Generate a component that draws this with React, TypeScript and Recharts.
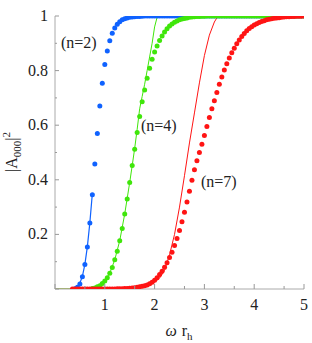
import { ComposedChart, Line, Scatter, XAxis, YAxis } from "recharts";

// sampled points are 0.05 apart in ω r_h
const STEP = 0.05;

const blueDotStart = 0.4;
const blueDots = [
  0.001, 0.006, 0.018, 0.045, 0.09, 0.154, 0.242, 0.345, 0.458, 0.57,
  0.67, 0.754, 0.822, 0.872, 0.909, 0.937, 0.956, 0.97, 0.979, 0.986,
  0.99, 0.993, 0.995, 0.996, 0.997, 0.998, 0.998, 0.999, 1, 1,
  1, 1, 1, 1, 1, 1, 1, 1, 1, 1,
  1, 1, 1, 1, 1, 1, 1, 1, 1, 1,
  1, 1, 1, 1, 1, 1, 1, 1, 1, 1,
  1, 1, 1, 1, 1, 1, 1, 1, 1, 1,
  1, 1, 1, 1, 1, 1, 1, 1, 1, 1,
  1, 1, 1, 1, 1, 1, 1, 1, 1, 1,
  1, 1, 1,
];

const greenDotStart = 0.75;
const greenDots = [
  0.002, 0.004, 0.008, 0.012, 0.02, 0.029, 0.041, 0.058, 0.079, 0.107,
  0.138, 0.177, 0.222, 0.275, 0.33, 0.39, 0.452, 0.512, 0.573, 0.632,
  0.686, 0.729, 0.772, 0.809, 0.842, 0.868, 0.89, 0.91, 0.927, 0.941,
  0.953, 0.963, 0.971, 0.977, 0.982, 0.986, 0.989, 0.991, 0.993, 0.995,
  0.996, 0.997, 0.998, 0.998, 0.999, 0.999, 1, 1, 1, 1,
  1, 1, 1, 1, 1, 1, 1, 1, 1, 1,
  1, 1, 1, 1, 1, 1, 1, 1, 1, 1,
  1, 1, 1, 1, 1, 1, 1, 1, 1, 1,
  1, 1, 1, 1, 1, 1,
];

const redDotStart = 0.35;
const redDots = [
  0, 0, 0, 0, 0, 0, 0, 0, 0, 0,
  0, 0, 0, 0, 0, 0, 0, 0, 0.001, 0.001,
  0.001, 0.002, 0.002, 0.003, 0.004, 0.005, 0.006, 0.008, 0.01, 0.012,
  0.015, 0.019, 0.025, 0.032, 0.041, 0.053, 0.065, 0.08, 0.096, 0.115,
  0.135, 0.159, 0.185, 0.214, 0.246, 0.281, 0.319, 0.358, 0.398, 0.437,
  0.47, 0.5, 0.53, 0.562, 0.595, 0.628, 0.66, 0.69, 0.72, 0.75,
  0.777, 0.802, 0.825, 0.846, 0.865, 0.882, 0.898, 0.912, 0.925, 0.936,
  0.946, 0.954, 0.961, 0.967, 0.972, 0.976, 0.98, 0.983, 0.986, 0.988,
  0.99, 0.992, 0.993, 0.994, 0.995, 0.996, 0.997, 0.997, 0.998, 0.998,
  0.999, 0.999, 0.999, 1,
];

const blueLineX = [0.35, 0.4, 0.45, 0.5, 0.55, 0.6, 0.65, 0.7, 0.75];
const blueLineY = [0, 0.004, 0.01, 0.022, 0.046, 0.09, 0.155, 0.243, 0.35];

const greenLineX = [0, 0.7, 0.8, 0.9, 1.0, 1.1, 1.2, 1.3, 1.4, 1.5, 1.55, 1.6, 1.65, 1.7, 1.75, 1.8, 1.85, 1.9, 1.95, 2.0, 2.05, 2.1, 5];
const greenLineY = [0, 0, 0.004, 0.012, 0.03, 0.058, 0.107, 0.177, 0.275, 0.39, 0.452, 0.515, 0.585, 0.66, 0.705, 0.75, 0.8, 0.85, 0.9, 0.96, 0.995, 1, 1];

const redLineX = [0, 1.0, 1.4, 1.6, 1.8, 1.9, 2.0, 2.1, 2.2, 2.3, 2.4, 2.5, 2.6, 2.7, 2.8, 2.9, 3.0, 3.1, 3.2, 3.25, 3.3, 5];
const redLineY = [0, 0, 0.002, 0.006, 0.013, 0.018, 0.025, 0.04, 0.068, 0.125, 0.2, 0.3, 0.415, 0.535, 0.645, 0.755, 0.855, 0.93, 0.978, 0.993, 1, 1];

const xTicks = [0, 0.2, 0.4, 0.6, 0.8, 1, 1.2, 1.4, 1.6, 1.8, 2, 2.2, 2.4, 2.6, 2.8, 3, 3.2, 3.4, 3.6, 3.8, 4, 4.2, 4.4, 4.6, 4.8, 5];
const yTicks = [0, 0.05, 0.1, 0.15, 0.2, 0.25, 0.3, 0.35, 0.4, 0.45, 0.5, 0.55, 0.6, 0.65, 0.7, 0.75, 0.8, 0.85, 0.9, 0.95, 1];

const BLUE = "#0f62ff";
const GREEN = "#3fe60a";
const RED = "#ff1414";
const FONT = "Liberation Serif, Times New Roman, serif";

function sampled(start: number, ys: number[]) {
  return ys.map((y, i) => ({ x: Math.round((start + i * STEP) * 100) / 100, y }));
}

function zipped(xs: number[], ys: number[]) {
  return xs.map((x, i) => ({ x, y: ys[i] }));
}

const isWhole = (v: number) => Math.abs(v - Math.round(v)) < 1e-6;
const isFifth = (v: number) => Math.abs(v * 5 - Math.round(v * 5)) < 1e-6;

function BottomTick({ x, y, payload }: any) {
  const v = payload.value;
  const major = isWhole(v);
  return (
    <g>
      <line x1={x} x2={x} y1={y} y2={y - (major ? 5 : 3)} stroke="#999" />
      {major && v > 0 && (
        <text x={x} y={y + 21} textAnchor="middle" fontFamily={FONT} fontSize={16} fill="#222">
          {v}
        </text>
      )}
    </g>
  );
}

function TopTick({ x, y, payload }: any) {
  const major = isWhole(payload.value);
  return <line x1={x} x2={x} y1={y} y2={y + (major ? 5 : 3)} stroke="#999" />;
}

function LeftTick({ x, y, payload }: any) {
  const v = payload.value;
  const major = isFifth(v);
  return (
    <g>
      <line x1={x} x2={x + (major ? 4 : 2)} y1={y} y2={y} stroke="#999" />
      {major && v > 0 && (
        <text x={x - 7} y={y + 5} textAnchor="end" fontFamily={FONT} fontSize={16} fill="#222">
          {v}
        </text>
      )}
    </g>
  );
}

function RightTick({ x, y, payload }: any) {
  const major = isFifth(payload.value);
  return <line x1={x} x2={x - (major ? 4 : 2)} y1={y} y2={y} stroke="#555" />;
}

const dot = (color: string) => (p: any) => <circle cx={p.cx} cy={p.cy} r={2.5} fill={color} />;

export default function App() {
  return (
    <div style={{ position: "absolute", left: 0, top: 0, width: 312, height: 343, background: "#fff" }}>
      <ComposedChart width={312} height={343} margin={{ top: 16, right: 8, bottom: 0, left: 0 }}>
        <XAxis
          xAxisId="b"
          type="number"
          dataKey="x"
          domain={[0, 5]}
          ticks={xTicks}
          height={54}
          tickSize={0}
          tickMargin={0}
          tick={BottomTick}
          axisLine={{ stroke: "#aaa" }}
          allowDataOverflow
          label={{
            position: "bottom",
            content: () => (
              <text x={179} y={336} textAnchor="middle" fontFamily={FONT} fontSize={16} fill="#222">
                <tspan fontStyle="italic">ω</tspan>
                <tspan dx={5}>r</tspan>
                <tspan fontSize={11} dy={4}>h</tspan>
              </text>
            ),
          }}
        />
        <XAxis
          xAxisId="t"
          orientation="top"
          type="number"
          domain={[0, 5]}
          ticks={xTicks}
          height={0}
          tickSize={0}
          tickMargin={0}
          tick={TopTick}
          axisLine={{ stroke: "#aaa" }}
        />
        <YAxis
          yAxisId="l"
          type="number"
          dataKey="y"
          domain={[0, 1]}
          ticks={yTicks}
          width={55}
          tickSize={0}
          tickMargin={0}
          tick={LeftTick}
          axisLine={{ stroke: "#aaa" }}
          allowDataOverflow
          label={{
            position: "left",
            content: () => (
              <text
                x={17}
                y={152}
                transform="rotate(-90 17 152)"
                textAnchor="middle"
                fontFamily={FONT}
                fontSize={16}
                fill="#222"
              >
                <tspan>|A</tspan>
                <tspan fontSize={11} dy={4}>000</tspan>
                <tspan dy={-4}>|</tspan>
                <tspan fontSize={11} dy={-7}>2</tspan>
              </text>
            ),
          }}
        />
        <YAxis
          yAxisId="r"
          orientation="right"
          type="number"
          domain={[0, 1]}
          ticks={yTicks}
          width={0}
          tickSize={0}
          tickMargin={0}
          tick={RightTick}
          axisLine={{ stroke: "#555" }}
        />

        <Line xAxisId="b" yAxisId="l" data={zipped(redLineX, redLineY)} dataKey="y" stroke={RED} strokeWidth={1} dot={false} isAnimationActive={false} />
        <Line xAxisId="b" yAxisId="l" data={zipped(greenLineX, greenLineY)} dataKey="y" stroke={GREEN} strokeWidth={1} dot={false} isAnimationActive={false} />
        <Line xAxisId="b" yAxisId="l" data={zipped(blueLineX, blueLineY)} dataKey="y" stroke={BLUE} strokeWidth={1.2} dot={false} isAnimationActive={false} />

        <Scatter xAxisId="b" yAxisId="l" data={sampled(blueDotStart, blueDots)} dataKey="y" shape={dot(BLUE)} isAnimationActive={false} />
        <Scatter xAxisId="b" yAxisId="l" data={sampled(greenDotStart, greenDots)} dataKey="y" shape={dot(GREEN)} isAnimationActive={false} />
        <Scatter xAxisId="b" yAxisId="l" data={sampled(redDotStart, redDots)} dataKey="y" shape={dot(RED)} isAnimationActive={false} />
      </ComposedChart>

      <div style={{ position: "absolute", left: 61, top: 34, font: `16px ${FONT}`, color: "#222" }}>(n=2)</div>
      <div style={{ position: "absolute", left: 141, top: 117, font: `16px ${FONT}`, color: "#222" }}>(n=4)</div>
      <div style={{ position: "absolute", left: 201, top: 173, font: `16px ${FONT}`, color: "#222" }}>(n=7)</div>
    </div>
  );
}
